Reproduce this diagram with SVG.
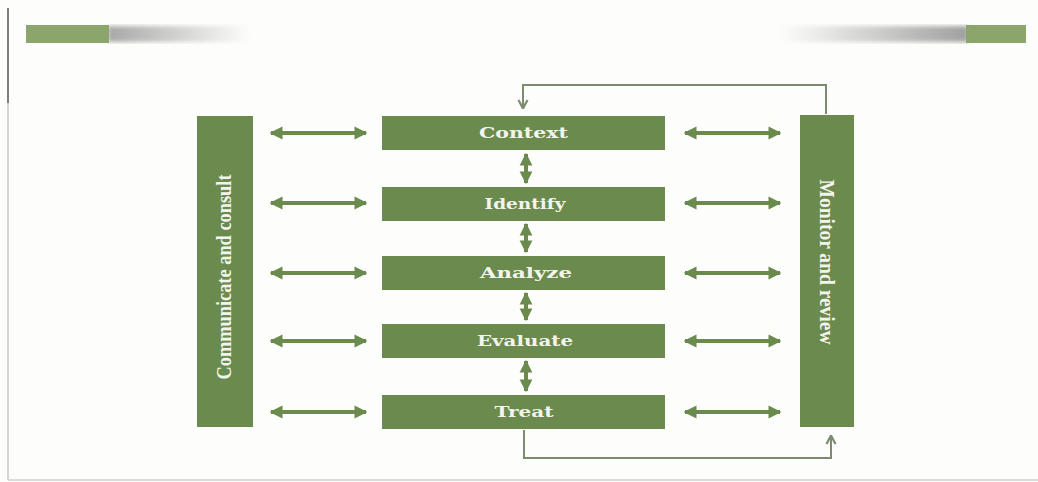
<svg xmlns="http://www.w3.org/2000/svg" width="1038" height="482" viewBox="0 0 1038 482">
<style>
.box{fill:#6b8a4d;}
.lbl{font-family:"DejaVu Serif","Liberation Serif",serif;font-weight:bold;font-size:15px;fill:#f4f4ee;text-anchor:middle;}
.vlbl{font-family:"Liberation Serif",serif;font-weight:bold;font-size:20px;fill:#f4f4ee;text-anchor:middle;}
.arr{stroke:#6b8a4d;stroke-width:4;fill:none;}
.fb{stroke:#7d8c70;stroke-width:2;fill:none;}
</style>
<defs>
<marker id="ah" viewBox="0 0 10 10" refX="9" refY="5" markerWidth="3.2" markerHeight="3.4" orient="auto-start-reverse" markerUnits="strokeWidth">
<path d="M0,0 L10,5 L0,10 Z" fill="#6b8a4d"/>
</marker>
<marker id="fh" viewBox="0 0 10 10" refX="9" refY="5" markerWidth="10" markerHeight="12" orient="auto" markerUnits="userSpaceOnUse">
<path d="M1,0.5 L9.5,5 L1,9.5" fill="none" stroke="#7d8c70" stroke-width="2.2"/>
</marker>
<linearGradient id="gl" x1="0" x2="1" y1="0" y2="0">
<stop offset="0" stop-color="#a8a8a8"/>
<stop offset="1" stop-color="#a8a8a8" stop-opacity="0"/>
</linearGradient>
<linearGradient id="gr" x1="1" x2="0" y1="0" y2="0">
<stop offset="0" stop-color="#a0a0a0"/>
<stop offset="1" stop-color="#a0a0a0" stop-opacity="0"/>
</linearGradient>
<filter id="bl"><feGaussianBlur stdDeviation="2"/></filter>
</defs>
<rect width="1038" height="482" fill="#fdfdfb"/>
<g id="frame">
<line x1="8" y1="8" x2="8" y2="103" stroke="#555" stroke-width="1.5"/>
<line x1="8" y1="103" x2="8" y2="480" stroke="#c8c8c8" stroke-width="1.5"/>
<line x1="8" y1="480" x2="1038" y2="480" stroke="#d0d0d0" stroke-width="1.5"/>
<rect x="108" y="26" width="142" height="16" fill="url(#gl)" filter="url(#bl)"/>
<rect x="26" y="25" width="83" height="18" fill="#8ba56d"/>
<rect x="780" y="26" width="188" height="16" fill="url(#gr)" filter="url(#bl)"/>
<rect x="966" y="25" width="60" height="18" fill="#8ba56d"/>
</g>
<g id="communicate">
<rect class="box" x="197" y="116" width="56" height="311"/>
<text class="vlbl" transform="translate(231,277) rotate(-90)" textLength="205" lengthAdjust="spacingAndGlyphs">Communicate and consult</text>
</g>
<g id="monitor">
<rect class="box" x="800" y="115" width="54" height="312"/>
<text class="vlbl" transform="translate(820,262) rotate(90)" textLength="165" lengthAdjust="spacingAndGlyphs">Monitor and review</text>
</g>
<g id="context">
<rect class="box" x="382" y="116" width="283" height="34"/>
<text class="lbl" x="523.5" y="138" textLength="89" lengthAdjust="spacingAndGlyphs">Context</text>
</g>
<g id="identify">
<rect class="box" x="382" y="187" width="283" height="34"/>
<text class="lbl" x="525" y="209" textLength="81" lengthAdjust="spacingAndGlyphs">Identify</text>
</g>
<g id="analyze">
<rect class="box" x="382" y="256" width="283" height="34"/>
<text class="lbl" x="526" y="278" textLength="92" lengthAdjust="spacingAndGlyphs">Analyze</text>
</g>
<g id="evaluate">
<rect class="box" x="382" y="324" width="283" height="34"/>
<text class="lbl" x="525" y="346" textLength="96" lengthAdjust="spacingAndGlyphs">Evaluate</text>
</g>
<g id="treat">
<rect class="box" x="382" y="395" width="283" height="34"/>
<text class="lbl" x="524" y="417" textLength="59" lengthAdjust="spacingAndGlyphs">Treat</text>
</g>
<g id="connectors">
<line class="arr" x1="271" y1="133" x2="366" y2="133" marker-start="url(#ah)" marker-end="url(#ah)"/>
<line class="arr" x1="271" y1="203" x2="366" y2="203" marker-start="url(#ah)" marker-end="url(#ah)"/>
<line class="arr" x1="271" y1="273" x2="366" y2="273" marker-start="url(#ah)" marker-end="url(#ah)"/>
<line class="arr" x1="271" y1="341" x2="366" y2="341" marker-start="url(#ah)" marker-end="url(#ah)"/>
<line class="arr" x1="271" y1="412" x2="366" y2="412" marker-start="url(#ah)" marker-end="url(#ah)"/>
<line class="arr" x1="685" y1="133" x2="780" y2="133" marker-start="url(#ah)" marker-end="url(#ah)"/>
<line class="arr" x1="685" y1="203" x2="780" y2="203" marker-start="url(#ah)" marker-end="url(#ah)"/>
<line class="arr" x1="685" y1="273" x2="780" y2="273" marker-start="url(#ah)" marker-end="url(#ah)"/>
<line class="arr" x1="685" y1="341" x2="780" y2="341" marker-start="url(#ah)" marker-end="url(#ah)"/>
<line class="arr" x1="685" y1="412" x2="780" y2="412" marker-start="url(#ah)" marker-end="url(#ah)"/>
<line class="arr" x1="526" y1="154" x2="526" y2="183" marker-start="url(#ah)" marker-end="url(#ah)"/>
<line class="arr" x1="526" y1="224" x2="526" y2="252" marker-start="url(#ah)" marker-end="url(#ah)"/>
<line class="arr" x1="526" y1="293" x2="526" y2="320" marker-start="url(#ah)" marker-end="url(#ah)"/>
<line class="arr" x1="526" y1="361" x2="526" y2="391" marker-start="url(#ah)" marker-end="url(#ah)"/>
<polyline class="fb" points="826,114 826,85 523,85 523,108" marker-end="url(#fh)"/>
<polyline class="fb" points="524,430 524,458 831,458 831,436" marker-end="url(#fh)"/>
</g>
</svg>
